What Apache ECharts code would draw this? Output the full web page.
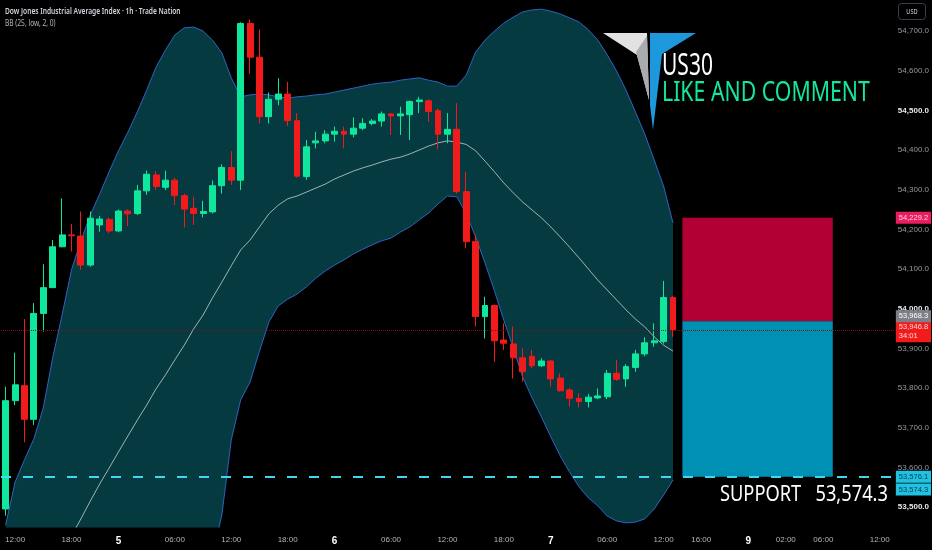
<!DOCTYPE html>
<html>
<head>
<meta charset="utf-8">
<script src="https://cdn.jsdelivr.net/npm/echarts@6/dist/echarts.min.js"></script>
<style>
html,body{margin:0;padding:0;background:#000;}
#chart{width:932px;height:550px;}
</style>
</head>
<body>
<div id="chart"></div>
<script>
// hourly candles: [open, close, low, high]
var ohlc = [
  [53495,53768,53478,53803],[53768,53808,53757,53889],[53806,53721,53663,53974],[53721,53988,53707,54014],
  [53988,54053,53942,54112],[54053,54156,54053,54173],[54156,54186,54155,54278],[54186,54184,54144,54213],
  [54183,54110,54098,54245],[54110,54228,54106,54245],[54211,54226,54194,54234],[54225,54196,54190,54230],
  [54196,54246,54193,54250],[54246,54239,54208,54250],[54240,54297,54236,54312],[54297,54339,54287,54348],
  [54337,54308,54299,54347],[54306,54324,54299,54348],[54324,54285,54261,54330],[54285,54251,54205,54290],
  [54253,54240,54211,54282],[54240,54245,54230,54272],[54244,54310,54240,54323],[54310,54356,54290,54364],
  [54356,54324,54312,54397],[54324,54719,54299,54722],[54719,54634,54592,54729],[54634,54484,54467,54704],
  [54484,54528,54467,54545],[54528,54541,54513,54581],[54541,54474,54460,54572],[54474,54334,54330,54493],
  [54333,54408,54325,54425],[54418,54423,54404,54446],[54423,54440,54417,54450],[54440,54447,54421,54459],
  [54447,54440,54404,54459],[54440,54455,54432,54482],[54455,54467,54450,54480],[54467,54473,54462,54478],
  [54473,54491,54459,54497],[54491,54486,54438,54493],[54486,54491,54438,54509],[54489,54522,54425,54525],
  [54522,54526,54493,54534],[54524,54497,54471,54528],[54499,54440,54402,54505],[54440,54452,54417,54493],
  [54452,54295,54290,54518],[54295,54169,54152,54345],[54169,53980,53955,54186],[53980,54008,53925,54030],
  [54008,53919,53866,54010],[53921,53913,53896,53963],[53911,53876,53824,53955],[53876,53841,53816,53900],
  [53880,53856,53850,53896],[53856,53868,53853,53875],[53868,53823,53803,53870],[53825,53793,53791,53837],
  [53795,53774,53753,53800],[53774,53766,53751,53787],[53766,53777,53751,53785],[53775,53780,53772,53799],
  [53778,53837,53772,53845],[53837,53822,53818,53871],[53823,53854,53803,53860],[53852,53886,53841,53896],
  [53886,53914,53880,53928],[53914,53919,53904,53963],[53917,54028,53912,54070],[54028,53946.8,53929,54032]
];

// Bollinger bands (25, low, 2)
var upperBand = [
  53455,53563,53619,53672,53750,53876,53984,54098,54171,54236,
  54289,54345,54398,54445,54496,54551,54609,54652,54690,54708,
  54710,54700,54677,54645,54582,54534,54539,54541,54539,54534,
  54531,54534,54536,54539,54541,54546,54551,54556,54561,54566,
  54569,54571,54576,54579,54582,54576,54571,54561,54561,54589,
  54647,54677,54700,54720,54735,54748,54753,54755,54750,54743,
  54733,54723,54703,54677,54640,54599,54551,54496,54440,54375,
  54309,54216
];
var lowerBand = [
  52799,52777,52807,52840,52846,52806,52784,52756,52769,52794,
  52827,52851,52880,52913,52942,52963,52987,53014,53052,53108,
  53188,53268,53377,53480,53669,53770,53815,53893,53966,54007,
  54024,54037,54055,54077,54095,54110,54123,54138,54150,54161,
  54171,54178,54193,54206,54224,54241,54264,54284,54282,54239,
  54181,54115,54045,53971,53901,53828,53775,53727,53677,53629,
  53588,53551,53523,53503,53477,53465,53460,53462,53470,53495,
  53530,53568
];
var basisLine = [
  53127,53170,53213,53256,53298,53341,53384,53427,53470,53515,
  53558,53598,53639,53679,53719,53757,53798,53833,53871,53908,
  53949,53984,54027,54067,54108,54148,54173,54206,54239,54261,
  54277,54284,54294,54304,54314,54327,54337,54347,54355,54362,
  54370,54377,54382,54390,54400,54410,54418,54423,54420,54414,
  54398,54372,54345,54317,54292,54269,54249,54229,54206,54181,
  54155,54128,54100,54072,54047,54022,53997,53974,53954,53929,
  53908,53893
];

var xTickIdx  = [1,7,12,18,24,30,35,41,47,53,58,64,70,74,79,83,87,93];
var xTickText = ['12:00','18:00','5','06:00','12:00','18:00','6','06:00','12:00','18:00','7','06:00','12:00','16:00','9','02:00','06:00','12:00'];
var yTicks = [53500,53600,53700,53800,53900,54000,54100,54200,54300,54400,54500,54600,54700];

var supportPrice = 53576.1;
var supportText = 53574.3;
var lastPrice = 53946.8;
var entryPrice = 53968.3;
var stopPrice = 54229.2;

var nSlots = 95;
var cats = [];
for (var i = 0; i < nSlots; i++) cats.push(String(i));
var tickMap = {};
xTickIdx.forEach(function (k, j) { tickMap[k] = xTickText[j]; });
var bandWidth = upperBand.map(function (u, j) { return u - lowerBand[j]; });

function fmt(v) {
  return v.toFixed(1).replace(/\B(?=(\d{3})+(?!\d))/g, ',');
}

var axisFont = "'Liberation Sans Narrow','Liberation Sans',sans-serif";
var UP = '#0fe89c', DOWN = '#f21b1b';
var NOLINE = { color: 'rgba(0,0,0,0)', width: 0 };

function tag(bg, fg, text, dy) {
  return {
    show: true, position: 'end', distance: 2, formatter: text,
    backgroundColor: bg, color: fg, fontSize: 7.5, fontFamily: axisFont,
    padding: [2, 3, 1, 3], lineHeight: 9, offset: [0, dy]
  };
}

var chart = echarts.init(document.getElementById('chart'));
var option = {
  backgroundColor: '#000000',
  animation: false,
  grid: { left: 1, right: 33, top: 0, bottom: 23 },
  xAxis: {
    type: 'category',
    data: cats,
    boundaryGap: true,
    axisLine: { show: false },
    axisTick: { show: false },
    splitLine: { show: false },
    axisLabel: {
      interval: 0,
      margin: 9,
      color: '#b2b5be',
      fontSize: 8,
      fontFamily: axisFont,
      formatter: function (v) {
        var t = tickMap[parseInt(v, 10)];
        if (!t) return '';
        return t.length === 1 ? '{d|' + t + '}' : t;
      },
      rich: { d: { color: '#ffffff', fontSize: 10, fontWeight: 'bold', fontFamily: axisFont } }
    }
  },
  yAxis: {
    type: 'value',
    position: 'right',
    min: 53449.6,
    max: 54778.15,
    scale: true,
    axisLine: { show: false },
    axisTick: { show: false },
    splitLine: { show: false },
    axisLabel: {
      customValues: yTicks,
      margin: 4,
      fontSize: 8,
      fontFamily: axisFont,
      color: '#9598a1',
      formatter: function (v) {
        return v % 500 === 0 ? '{b|' + fmt(v) + '}' : fmt(v);
      },
      rich: { b: { color: '#e6e8ee', fontSize: 8, fontWeight: 'bold', fontFamily: axisFont } }
    }
  },
  graphic: [
    { type: 'text', x: 5, y: 7, scaleX: 0.78, style: { text: 'Dow Jones Industrial Average Index · 1h · Trade Nation', fill: '#d1d4dc', font: '600 8.5px "Noto Sans"', textVerticalAlign: 'top' } },
    { type: 'text', x: 5, y: 19, scaleX: 0.78, style: { text: 'BB (25, low, 2, 0)', fill: '#b2b5be', font: '8.5px "Noto Sans"', textVerticalAlign: 'top' } },
    { type: 'rect', shape: { x: 898.5, y: 3.5, width: 27, height: 16, r: 3 }, style: { fill: 'none', stroke: '#3b3f4b', lineWidth: 1 } },
    { type: 'text', x: 912, y: 11.5, scaleX: 0.8, style: { text: 'USD', fill: '#d1d4dc', font: '7px "Noto Sans"', textAlign: 'center', textVerticalAlign: 'middle' } },
    { type: 'polygon', shape: { points: [[603, 33], [647, 33], [649, 100], [637, 55]] }, style: { fill: '#e2e2e2' } },
    { type: 'polygon', shape: { points: [[636, 52], [647, 36], [649, 100]] }, style: { fill: '#a9abae' } },
    { type: 'polygon', shape: { points: [[650, 33], [696, 33], [662, 54], [653, 130], [650, 105]] }, style: { fill: '#1e98dc' } },
    { type: 'text', x: 662, y: 51, scaleX: 0.70, style: { text: 'US30', fill: '#ffffff', font: '30px "Noto Sans"', textVerticalAlign: 'top' } },
    { type: 'text', x: 662, y: 79, scaleX: 0.76, style: { text: 'LIKE AND COMMENT', fill: '#14e79b', font: '28px "Noto Sans"', textVerticalAlign: 'top' } },
    { type: 'text', x: 720, y: 484, scaleX: 0.83, style: { text: 'SUPPORT   ' + fmt(supportText), fill: '#ffffff', font: '22px "Noto Sans"', textVerticalAlign: 'top' } }
  ],
  series: [
    {
      name: 'BB lower', type: 'line', data: lowerBand, stack: 'bb',
      symbol: 'none', silent: true, z: 1,
      lineStyle: { color: '#2f63c0', width: 1 }
    },
    {
      name: 'BB upper', type: 'line', data: bandWidth, stack: 'bb',
      symbol: 'none', silent: true, z: 1,
      lineStyle: { color: '#2f63c0', width: 1 },
      areaStyle: { color: '#063a41', opacity: 1 }
    },
    {
      name: 'BB basis', type: 'line', data: basisLine,
      symbol: 'none', silent: true, z: 2,
      lineStyle: { color: '#c5d2d4', width: 1, opacity: 0.8 }
    },
    {
      name: 'US30', type: 'candlestick', data: ohlc, z: 3,
      barWidth: '68%',
      itemStyle: { color: UP, color0: DOWN, borderColor: UP, borderColor0: DOWN, borderWidth: 1 },
      markArea: {
        silent: true,
        data: [
          [{ xAxis: '72', yAxis: stopPrice, itemStyle: { color: '#b20034', opacity: 1 } }, { xAxis: '88', yAxis: entryPrice }],
          [{ xAxis: '72', yAxis: entryPrice, itemStyle: { color: '#0090b3', opacity: 1 } }, { xAxis: '88', yAxis: supportPrice }]
        ]
      },
      markLine: {
        silent: true,
        symbol: 'none',
        animation: false,
        data: [
          { yAxis: supportPrice, lineStyle: { color: '#3fd8ee', type: [10, 12], width: 2 }, label: tag('#1fc3de', '#0b3a63', fmt(supportPrice), 0) },
          { yAxis: supportText, lineStyle: NOLINE, label: tag('#1fc3de', '#0b3a63', fmt(supportText), 12) },
          { yAxis: lastPrice, lineStyle: { color: '#7a1214', type: 'dotted', width: 1 }, label: tag('#f21b1b', '#ffd9d9', fmt(lastPrice) + '\n34:01', 2) },
          { yAxis: entryPrice, lineStyle: NOLINE, label: tag('#7d8088', '#ffffff', fmt(entryPrice), -5) },
          { yAxis: stopPrice, lineStyle: NOLINE, label: tag('#ea1e5f', '#ffd6e2', fmt(stopPrice), 0) }
        ]
      }
    }
  ]
};
chart.setOption(option);
</script>
</body>
</html>
